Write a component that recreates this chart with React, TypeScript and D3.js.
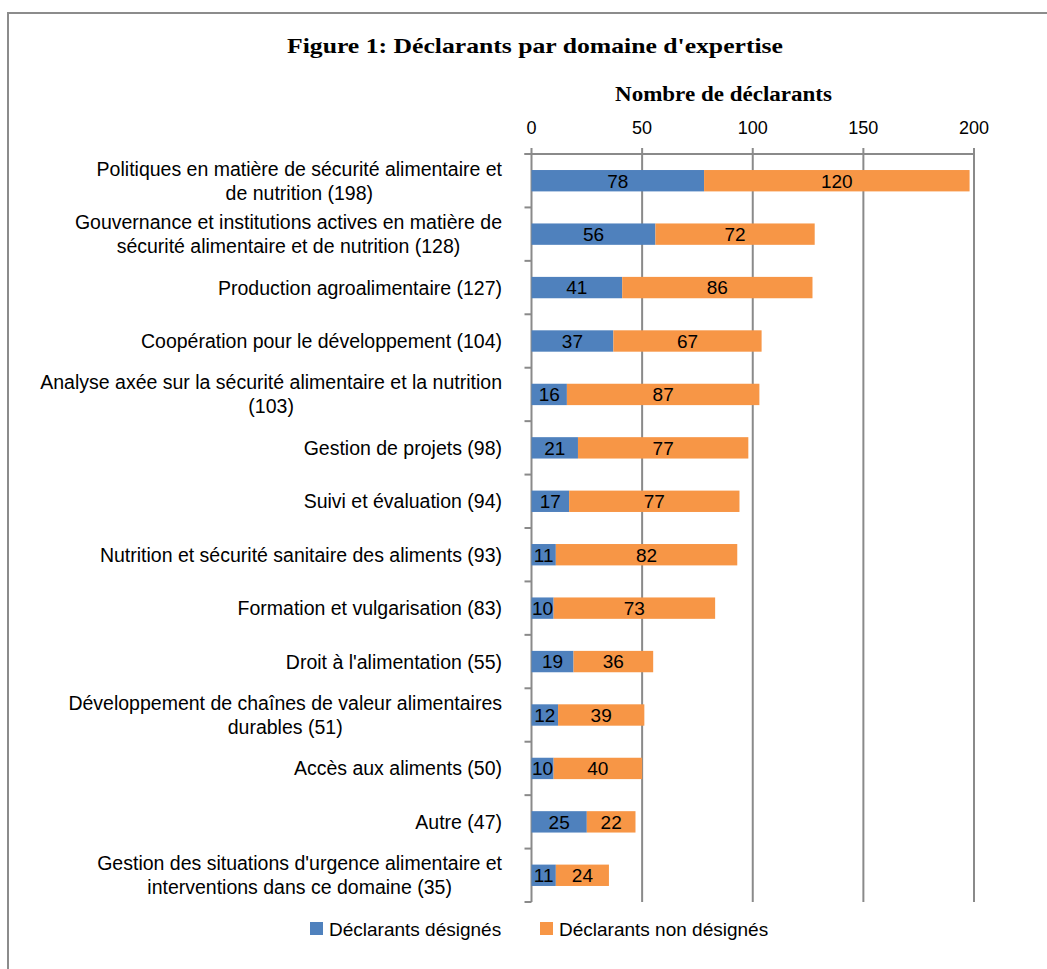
import { useEffect, useRef } from "react";
import * as d3 from "d3";

// Catégories (lignes de libellé) et valeurs
const categoryLines: string[][] = [
  ["Politiques en matière de sécurité alimentaire et", "de nutrition (198)"],
  ["Gouvernance et institutions actives en matière de", "sécurité alimentaire et de nutrition (128)"],
  ["Production agroalimentaire (127)"],
  ["Coopération pour le développement (104)"],
  ["Analyse axée sur la sécurité alimentaire et la nutrition", "(103)"],
  ["Gestion de projets (98)"],
  ["Suivi et évaluation (94)"],
  ["Nutrition et sécurité sanitaire des aliments (93)"],
  ["Formation et vulgarisation (83)"],
  ["Droit à l'alimentation (55)"],
  ["Développement de chaînes de valeur alimentaires", "durables (51)"],
  ["Accès aux aliments (50)"],
  ["Autre (47)"],
  ["Gestion des situations d'urgence alimentaire et", "interventions dans ce domaine (35)"],
];

const designes = [78, 56, 41, 37, 16, 21, 17, 11, 10, 19, 12, 10, 25, 11];
const nonDesignes = [120, 72, 86, 67, 87, 77, 77, 82, 73, 36, 39, 40, 22, 24];

const xTicks = [0, 50, 100, 150, 200];
const seriesNames = ["Déclarants désignés", "Déclarants non désignés"];
const seriesColors = ["#4F81BD", "#F79646"];

const TITLE = "Figure 1: Déclarants par domaine d'expertise";
const AXIS_TITLE = "Nombre de déclarants";

const SANS = "'Liberation Sans', Arial, sans-serif";
const SERIF = "'Liberation Serif', 'Times New Roman', serif";

export default function App() {
  const svgRef = useRef<SVGSVGElement>(null);

  useEffect(() => {
    if (!svgRef.current) return;
    const svg = d3.select(svgRef.current);
    svg.selectAll("*").remove();

    const plot = { left: 531.5, right: 974, top: 154, bottom: 902 };

    // Cadre
    svg
      .append("rect")
      .attr("x", 8)
      .attr("y", 13)
      .attr("width", 1100)
      .attr("height", 1000)
      .attr("fill", "white")
      .attr("stroke", "#8c8c8c")
      .attr("stroke-width", 2);

    const keys = categoryLines.map((_, i) => String(i));

    const x = d3.scaleLinear().domain([0, 200]).range([plot.left, plot.right]);
    const y = d3
      .scaleBand()
      .domain(keys)
      .range([plot.top, plot.bottom])
      .paddingInner(0.6)
      .paddingOuter(0.3);

    // Titres
    svg
      .append("text")
      .attr("x", 287)
      .attr("y", 53)
      .attr("textLength", 496)
      .attr("lengthAdjust", "spacingAndGlyphs")
      .style("font-family", SERIF)
      .style("font-weight", "bold")
      .style("font-size", "22px")
      .text(TITLE);

    svg
      .append("text")
      .attr("x", 615)
      .attr("y", 101)
      .attr("textLength", 217)
      .attr("lengthAdjust", "spacingAndGlyphs")
      .style("font-family", SERIF)
      .style("font-weight", "bold")
      .style("font-size", "20px")
      .text(AXIS_TITLE);

    // Grille verticale
    svg
      .append("g")
      .selectAll("line")
      .data(xTicks)
      .enter()
      .append("line")
      .attr("x1", (d) => x(d))
      .attr("x2", (d) => x(d))
      .attr("y1", plot.top - 6)
      .attr("y2", plot.bottom)
      .attr("stroke", "#8a8a8a")
      .attr("stroke-width", 2);

    // Axe du haut
    svg
      .append("line")
      .attr("x1", plot.left - 7)
      .attr("x2", plot.right)
      .attr("y1", plot.top)
      .attr("y2", plot.top)
      .attr("stroke", "#8a8a8a")
      .attr("stroke-width", 2);

    svg
      .append("g")
      .selectAll("text")
      .data(xTicks)
      .enter()
      .append("text")
      .attr("x", (d) => x(d))
      .attr("y", 134)
      .attr("text-anchor", "middle")
      .style("font-family", SANS)
      .style("font-size", "18px")
      .style("fill", "#000")
      .text((d) => d);

    // Graduations de l'axe des catégories
    const step = y.step();
    svg
      .append("g")
      .selectAll("line")
      .data(d3.range(keys.length + 1))
      .enter()
      .append("line")
      .attr("x1", plot.left - 7)
      .attr("x2", plot.left)
      .attr("y1", (i) => plot.top + i * step)
      .attr("y2", (i) => plot.top + i * step)
      .attr("stroke", "#8a8a8a")
      .attr("stroke-width", 2);

    // Barres empilées
    const stacked = keys.map((k, i) => ({
      key: k,
      segs: [
        { s: 0, v0: 0, v1: designes[i] },
        { s: 1, v0: designes[i], v1: designes[i] + nonDesignes[i] },
      ],
    }));

    const rows = svg
      .append("g")
      .selectAll("g")
      .data(stacked)
      .enter()
      .append("g")
      .attr("transform", (d) => `translate(0,${y(d.key)})`);

    rows
      .selectAll("rect")
      .data((d) => d.segs)
      .enter()
      .append("rect")
      .attr("x", (d) => x(d.v0))
      .attr("width", (d) => x(d.v1) - x(d.v0))
      .attr("y", 0)
      .attr("height", y.bandwidth())
      .attr("fill", (d) => seriesColors[d.s]);

    rows
      .selectAll("text")
      .data((d) => d.segs)
      .enter()
      .append("text")
      .attr("x", (d) => (x(d.v0) + x(d.v1)) / 2)
      .attr("y", y.bandwidth() / 2)
      .attr("dy", "0.36em")
      .attr("text-anchor", "middle")
      .style("font-family", SANS)
      .style("font-size", "19px")
      .style("fill", "#000")
      .text((d) => d.v1 - d.v0);

    // Libellés des catégories (centrés dans un bloc aligné à droite)
    const labelRight = 502;
    const lineH = 24;
    categoryLines.forEach((lines, i) => {
      const cy = (y(keys[i]) || 0) + y.bandwidth() / 2;
      const g = svg.append("g");
      const texts = lines.map((ln, j) =>
        g
          .append("text")
          .attr("y", cy + (j - (lines.length - 1) / 2) * lineH)
          .attr("dy", "0.36em")
          .attr("text-anchor", "middle")
          .style("font-family", SANS)
          .style("font-size", "19.5px")
          .style("fill", "#000")
          .text(ln)
      );
      const widths = texts.map((t) => (t.node() as SVGTextElement).getComputedTextLength());
      const maxW = d3.max(widths) || 0;
      texts.forEach((t) => t.attr("x", labelRight - maxW / 2));
    });

    // Légende
    const legendItems = [
      { x: 310, name: seriesNames[0], color: seriesColors[0] },
      { x: 540, name: seriesNames[1], color: seriesColors[1] },
    ];
    const lg = svg.append("g");
    legendItems.forEach((it) => {
      lg.append("rect")
        .attr("x", it.x)
        .attr("y", 922)
        .attr("width", 13)
        .attr("height", 13)
        .attr("fill", it.color);
      lg.append("text")
        .attr("x", it.x + 19)
        .attr("y", 929)
        .attr("dy", "0.36em")
        .style("font-family", SANS)
        .style("font-size", "19px")
        .style("fill", "#000")
        .text(it.name);
    });
  }, []);

  return (
    <svg
      ref={svgRef}
      width={1047}
      height={969}
      style={{ position: "absolute", left: 0, top: 0, display: "block", background: "white" }}
    />
  );
}
